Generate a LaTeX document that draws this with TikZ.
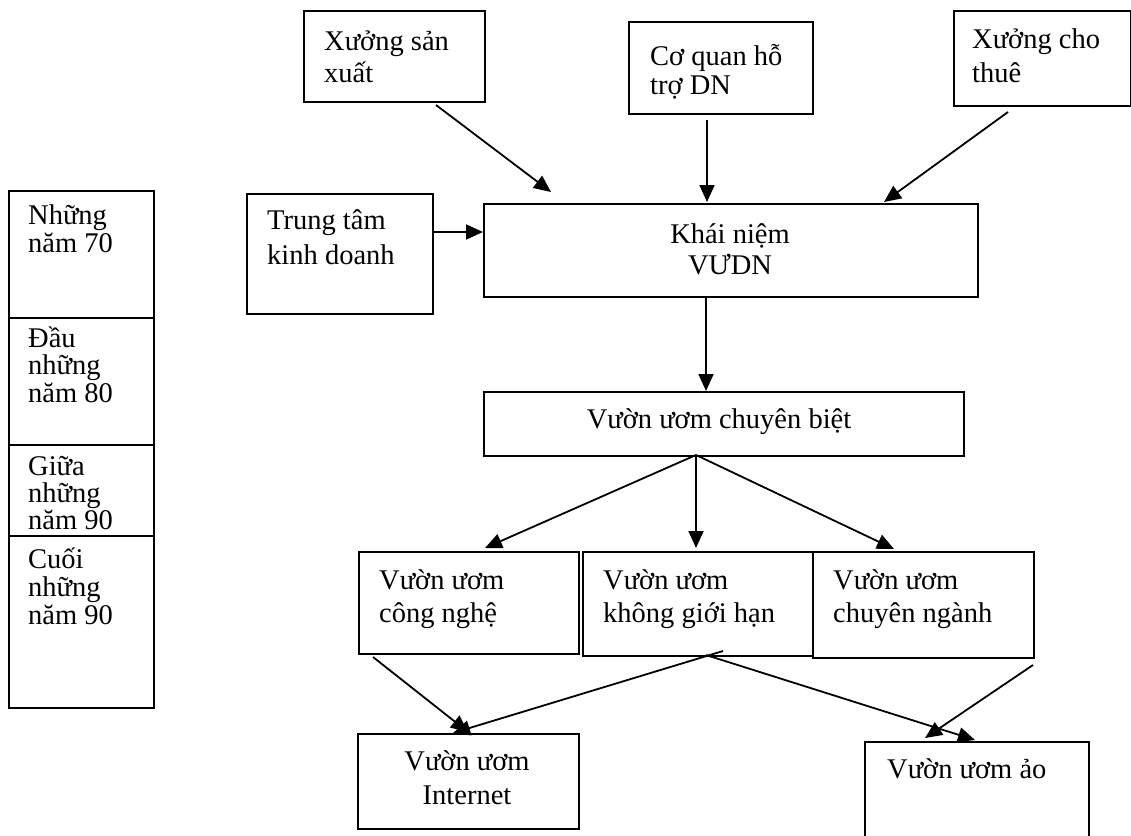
\documentclass[tikz,border=0pt]{standalone}
\usepackage{fontspec}
\setmainfont{Liberation Serif}
\usetikzlibrary{arrows.meta}
\newcommand\myfs{\fontsize{28.5pt}{33pt}\selectfont}
\begin{document}
\begin{tikzpicture}[x=1pt,y=-1pt,
  box/.style={draw, line width=2pt, rectangle, inner sep=0pt, anchor=north west},
  txt/.style={anchor=base west, inner sep=0pt, font=\myfs},
  ctxt/.style={anchor=base, inner sep=0pt, font=\myfs},
  arr/.style={-{Triangle[length=17pt,width=15pt]}, line width=1.8pt}]
\useasboundingbox (0,0) rectangle (1131,835);

% left time column
\node[box, minimum width=145pt, minimum height=127pt] (p1) at (8,190) {};
\node[box, minimum width=145pt, minimum height=127pt] (p2) at (8,317) {};
\node[box, minimum width=145pt, minimum height=91pt] (p3) at (8,444) {};
\node[box, minimum width=145pt, minimum height=172pt] (p4) at (8,535) {};
\node[txt] (p1a) at (28,224) {Những};
\node[txt] (p1b) at (28,252) {năm 70};
\node[txt] (p2a) at (28,347) {Đầu};
\node[txt] (p2b) at (28,374) {những};
\node[txt] (p2c) at (28,402) {năm 80};
\node[txt] (p3a) at (28,475) {Giữa};
\node[txt] (p3b) at (28,502) {những};
\node[txt] (p3c) at (28,529) {năm 90};
\node[txt] (p4a) at (28,568) {Cuối};
\node[txt] (p4b) at (28,596) {những};
\node[txt] (p4c) at (28,624) {năm 90};

% top boxes
\node[box, minimum width=181pt, minimum height=91pt] (xsx) at (303,10) {};
\node[txt] (xsx1) at (324,50) {Xưởng sản};
\node[txt] (xsx2) at (324,82) {xuất};

\node[box, minimum width=184pt, minimum height=92pt] (cq) at (628,21) {};
\node[txt] (cq1) at (650,65) {Cơ quan hỗ};
\node[txt] (cq2) at (650,94) {trợ DN};

\node[box, minimum width=177pt, minimum height=95pt] (xct) at (953,10) {};
\node[txt] (xct1) at (972,48) {Xưởng cho};
\node[txt] (xct2) at (972,82) {thuê};

\node[box, minimum width=186pt, minimum height=120pt] (tt) at (246,193) {};
\node[txt] (tt1) at (267,229) {Trung tâm};
\node[txt] (tt2) at (267,264) {kinh doanh};

\node[box, minimum width=494pt, minimum height=93pt] (kn) at (483,203) {};
\node[ctxt] (kn1) at (730,243) {Khái niệm};
\node[ctxt] (kn2) at (730,274) {VƯDN};

\node[box, minimum width=480pt, minimum height=64pt] (cb) at (483,391) {};
\node[ctxt] (cb1) at (719,428) {Vườn ươm chuyên biệt};

% middle row
\node[box, minimum width=220pt, minimum height=102pt] (cn) at (358,551) {};
\node[txt] (cn1) at (379,589) {Vườn ươm};
\node[txt] (cn2) at (379,622) {công nghệ};
\node[box, minimum width=230pt, minimum height=104pt] (kg) at (582,551) {};
\node[txt] (kg1) at (603,589) {Vườn ươm};
\node[txt] (kg2) at (603,622) {không giới hạn};
\node[box, minimum width=221pt, minimum height=106pt] (cg) at (812,551) {};
\node[txt] (cg1) at (833,589) {Vườn ươm};
\node[txt] (cg2) at (833,622) {chuyên ngành};

% bottom row
\node[box, minimum width=221pt, minimum height=95pt] (it) at (357,733) {};
\node[ctxt] (it1) at (467,770) {Vườn ươm};
\node[ctxt] (it2) at (467,804) {Internet};
\node[box, minimum width=224pt, minimum height=100pt] (ao) at (864,741) {};
\node[txt] (ao1) at (887,778) {Vườn ươm ảo};

% connector end points
\coordinate (a1s) at (436,105); \coordinate (a1e) at (551,192);
\coordinate (a2s) at (707,120); \coordinate (a2e) at (707,202);
\coordinate (a3s) at (1008,112); \coordinate (a3e) at (884,202);
\coordinate (a4s) at (432,232); \coordinate (a4e) at (483,232);
\coordinate (a5s) at (706,296); \coordinate (a5e) at (706,391);
\coordinate (a6s) at (696,455);
\coordinate (a6l) at (485,548); \coordinate (a6m) at (696,548); \coordinate (a6r) at (894,549);
\coordinate (a7s) at (373,657); \coordinate (a7e) at (468,732);
\coordinate (a8s) at (723,651); \coordinate (a8e) at (453,733);
\coordinate (a9s) at (706,655); \coordinate (a9e) at (975,740);
\coordinate (a10s) at (1033,665); \coordinate (a10e) at (925,738);

\draw[arr] (a1s) -- (a1e);
\draw[arr] (a2s) -- (a2e);
\draw[arr] (a3s) -- (a3e);
\draw[arr] (a4s) -- (a4e);
\draw[arr] (a5s) -- (a5e);
\draw[arr] (a6s) -- (a6l);
\draw[arr] (a6s) -- (a6m);
\draw[arr] (a6s) -- (a6r);
\draw[arr] (a7s) -- (a7e);
\draw[arr] (a8s) -- (a8e);
\draw[arr] (a9s) -- (a9e);
\draw[arr] (a10s) -- (a10e);
\end{tikzpicture}
\end{document}
